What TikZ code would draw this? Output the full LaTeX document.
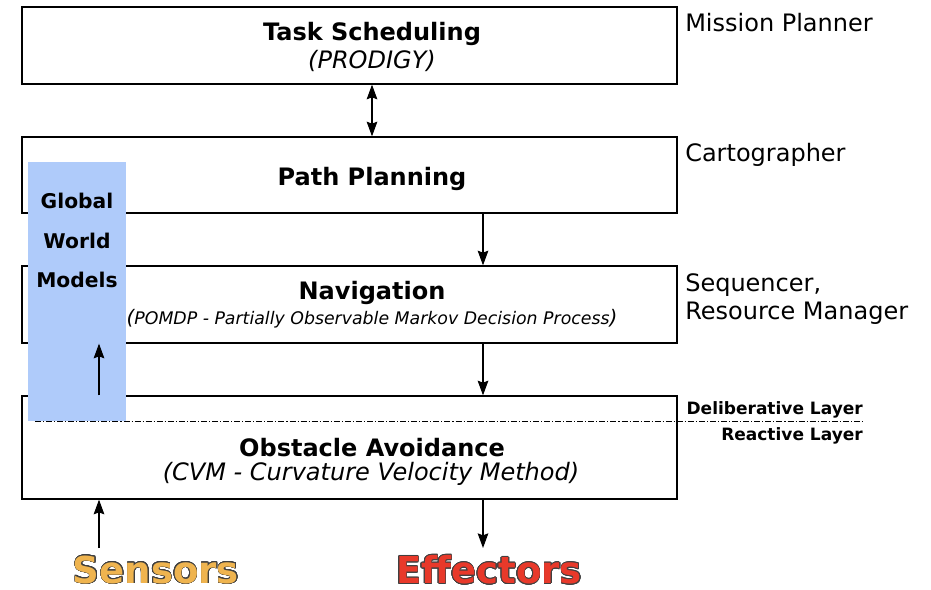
\documentclass[tikz,border=0pt]{standalone}
\usepackage{fontspec}
\setmainfont{DejaVu Sans}
\usepackage{contour}
\usetikzlibrary{arrows.meta}
\definecolor{gwm}{RGB}{175,203,250}
\definecolor{sensorc}{RGB}{239,180,79}
\definecolor{effc}{RGB}{232,57,42}
\contourlength{0.45pt}
\contournumber{24}
\begin{document}
\begin{tikzpicture}[x=0.75pt,y=-0.75pt,
  box/.style={draw=black,line width=1pt,fill=white,minimum width=491.25pt,inner sep=0pt},
  ttl/.style={font=\bfseries\fontsize{18}{20}\selectfont,inner sep=0pt},
  sub/.style={font=\itshape\fontsize{18}{20}\selectfont,inner sep=0pt},
  side/.style={font=\fontsize{18}{21.5}\selectfont,inner sep=0pt,anchor=west,align=left},
  layer/.style={font=\bfseries\fontsize{12.75}{14}\selectfont,inner sep=0pt,anchor=east},
  gw/.style={font=\bfseries\fontsize{15.2}{17}\selectfont,inner sep=0pt},
  big/.style={font=\bfseries\fontsize{27.8}{30}\selectfont,inner sep=0pt},
  arr/.style={-{Stealth[length=11pt,width=8pt,inset=1.5pt]},line width=0.8pt},
  darr/.style={{Stealth[length=11pt,width=8pt,inset=1.5pt]}-{Stealth[length=11pt,width=8pt,inset=1.5pt]},line width=0.8pt}]
\useasboundingbox (0,0) rectangle (931,589);
% boxes
\node[box,minimum height=57.75pt] (task) at (349.5,45.5) {};
\node[box,minimum height=57pt] (path) at (349.5,175) {};
\node[box,minimum height=57.75pt] (nav) at (349.5,304.5) {};
\node[box,minimum height=77.25pt] (obst) at (349.5,447.5) {};
% global world models panel
\fill[gwm] (28,162) rectangle (126,421);
% layer separator
\coordinate (sepL) at (35,421);
\coordinate (sepR) at (863,421);
\draw[line width=0.7pt,dash pattern=on 4.5pt off 1.5pt on 0.8pt off 1.5pt] (sepL) -- (sepR);
% texts
\node[ttl] (tt) at (372,34) {Task Scheduling};
\node[sub] (ts) at (372,61) {(PRODIGY)};
\node[ttl] (pt) at (372,179) {Path Planning};
\node[ttl] (nt) at (372,293) {Navigation};
\node[inner sep=0pt,font=\itshape\fontsize{13}{15}\selectfont] (ns) at (372,319) {{\fontsize{15}{15}\selectfont(}POMDP - Partially Observable Markov Decision Process{\fontsize{15}{15}\selectfont)}};
\node[ttl] (ot) at (372,448) {Obstacle Avoidance};
\node[sub] (os) at (371,474) {(CVM - Curvature Velocity Method)};
\node[side] (l1) at (685,23) {Mission Planner};
\node[side] (l2) at (685,155) {Cartographer};
\node[side] (l3) at (685,299) {Sequencer,\\Resource Manager};
\node[layer] (dl) at (863,410) {Deliberative Layer};
\node[layer] (rl) at (863,436) {Reactive Layer};
\node[gw] (g1) at (77,201) {Global};
\node[gw] (g2) at (77,241) {World};
\node[gw] (g3) at (77,280) {Models};
\node[big] (sens) at (156,570) {\contour{black!75}{\textcolor{sensorc}{Sensors}}};
\node[big] (eff) at (489,570) {\contour{black!75}{\textcolor{effc}{Effectors}}};
% arrows
\coordinate (xa) at (372,0);
\coordinate (xb) at (483,0);
\coordinate (xc) at (99,0);
\coordinate (sTop) at (99,548);
\coordinate (eTop) at (483,548);
\draw[darr] (task.south -| xa) -- (path.north -| xa);
\draw[arr] (path.south -| xb) -- (nav.north -| xb);
\draw[arr] (nav.south -| xb) -- (obst.north -| xb);
\draw[arr] (obst.north -| xc) -- (nav.south -| xc);
\draw[arr] (sTop) -- (obst.south -| xc);
\draw[arr] (obst.south -| xb) -- (eTop);
\end{tikzpicture}
\end{document}
